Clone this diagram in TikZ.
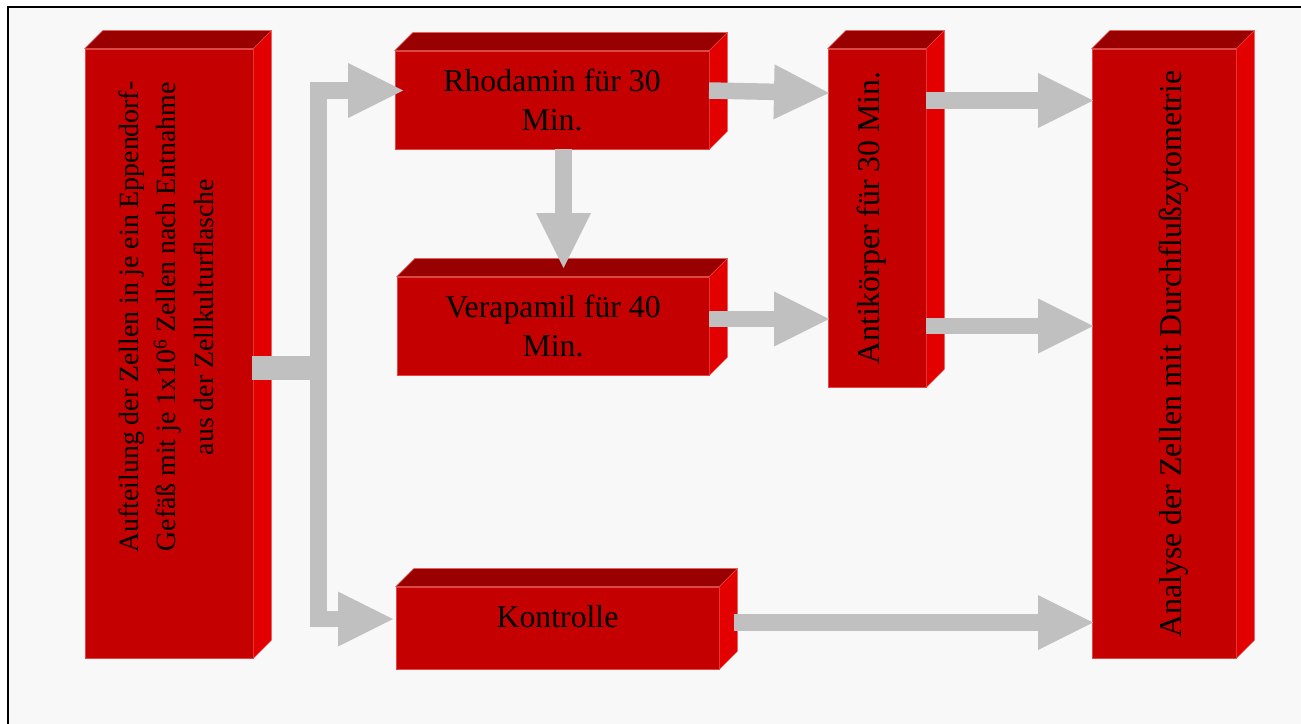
\documentclass[tikz,border=0pt]{standalone}
\usepackage{fontspec}
\setmainfont{Liberation Serif}
\usetikzlibrary{arrows.meta,calc}
\definecolor{frontc}{RGB}{196,0,0}
\definecolor{topc}{RGB}{153,0,0}
\definecolor{sidec}{RGB}{226,0,0}
\definecolor{edgec}{RGB}{228,70,70}
\definecolor{arrc}{RGB}{192,192,192}
\definecolor{bgc}{RGB}{248,248,248}
\begin{document}
\begin{tikzpicture}[x=1pt,y=-1pt,
  font=\fontsize{31.8pt}{38.3pt}\selectfont,
  boxfront/.style={fill=frontc, draw=edgec, line width=0.6pt, inner sep=0pt, text=black, align=center},
  boxtext/.style={inner sep=0pt, align=center, text=black},
  conn/.style={draw=arrc, line width=16.5pt, line join=miter,
    -{Triangle[length=55pt,width=55pt,line width=0pt]}},
  stub/.style={draw=arrc, line width=#1},
]
\useasboundingbox (0,0) rectangle (1301,723);
\fill[white] (0,0) rectangle (1301,723);
\fill[bgc] (8,7) rectangle (1302,724);
\draw[line width=2pt] (8,724) -- (8,7) -- (1302,7);

% front faces
\node[boxfront, minimum width=168pt, minimum height=609pt] (b1) at (169,353.5) {};
\node[boxfront, minimum width=314pt, minimum height=98pt] (rho) at (552,100) {Rhodamin für 30\\Min.};
\node[boxfront, minimum width=312pt, minimum height=98pt] (vera) at (553,326) {Verapamil für 40\\Min.};
\node[boxfront, minimum width=323pt, minimum height=82pt] (kon) at (557.5,628) {};
\node[boxfront, minimum width=98pt, minimum height=338pt] (anti) at (877,218) {};
\node[boxfront, minimum width=144pt, minimum height=609pt] (ana) at (1164,353.5) {};

% 3D faces
\foreach \n in {b1,rho,vera,kon,anti,ana}{
  \filldraw[fill=topc, draw=edgec, line width=0.5pt]
    (\n.north west) -- ++(18,-18) -- ($(\n.north east)+(18,-18)$) -- (\n.north east) -- cycle;
  \filldraw[fill=sidec, draw=edgec, line width=0.5pt]
    (\n.north east) -- ++(18,-18) -- ($(\n.south east)+(18,-18)$) -- (\n.south east) -- cycle;
}

% texts
\node[boxtext, rotate=90, font=\fontsize{27.8pt}{37.5pt}\selectfont] (t1) at (166,317)
  {Aufteilung der Zellen in je ein Eppendorf-\\Gefäß mit je 1x10\textsuperscript{6} Zellen nach Entnahme\\aus der Zellkulturflasche};
\node[boxtext] (t4) at (557.5,617) {Kontrolle};
\node[boxtext, rotate=90] (t5) at (872,218) {Antikörper für 30 Min.};
\node[boxtext, rotate=90] (t6) at (1174,354) {Analyse der Zellen mit Durchflußzytometrie};

% connector coordinates
\coordinate (s1) at (252,368);
\coordinate (j) at (318.7,368);
\coordinate (e1) at (327,368);
\coordinate (rhoin) at (403,90.5);
\coordinate (konin) at (393,619);
\coordinate (rhoout) at (709,90.5);
\coordinate (antiin1) at (829,93);
\coordinate (rhodown) at (563.5,149);
\coordinate (verain) at (563.5,268);
\coordinate (veraout) at (709,319);
\coordinate (antiin2) at (829,319);
\coordinate (antiout1) at (926,100.5);
\coordinate (anain1) at (1093,100.5);
\coordinate (antiout2) at (926,326);
\coordinate (anain2) at (1093,326);
\coordinate (konout) at (734,622.5);
\coordinate (anain3) at (1093,622.5);

% connectors
\draw[stub=24pt] (s1) -- (e1);
\draw[conn] (j) |- (rhoin);
\draw[conn] (j) |- (konin);
\draw[conn] (rhoout) -- (antiin1);
\draw[conn] (rhodown) -- (verain);
\draw[conn] (veraout) -- (antiin2);
\draw[conn] (antiout1) -- (anain1);
\draw[conn] (antiout2) -- (anain2);
\draw[conn] (konout) -- (anain3);
\end{tikzpicture}
\end{document}
